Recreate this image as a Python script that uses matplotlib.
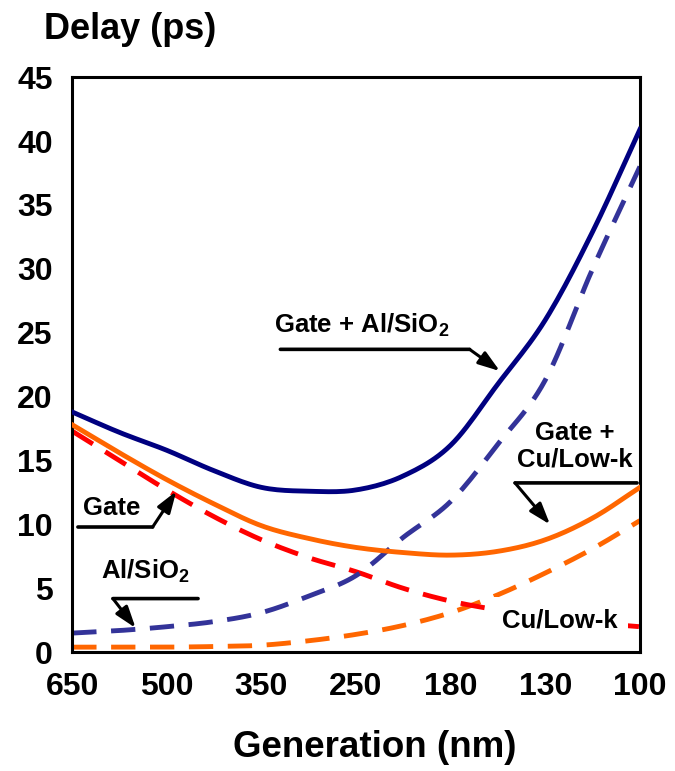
import numpy as np
import matplotlib.pyplot as plt

plt.rcParams['font.family'] = ['Liberation Sans', 'DejaVu Sans']
plt.rcParams['font.weight'] = 'bold'
plt.rcParams['mathtext.fontset'] = 'custom'
plt.rcParams['mathtext.bf'] = 'Liberation Sans:bold'
plt.rcParams['mathtext.rm'] = 'Liberation Sans:bold'
plt.rcParams['mathtext.default'] = 'bf'

# generations (categorical axis) and half-step sample positions
gen_labels = ['650', '500', '350', '250', '180', '130', '100']
x_pos = np.arange(0, 6.5, 0.5)

# delay values (ps) at each half step
gate_al = [18.8, 17.2, 15.8, 14.2, 12.9, 12.6, 12.7, 13.8, 16.2, 21.0, 26.0, 32.9, 40.9]
al_sio2 = [1.5, 1.7, 2.0, 2.4, 3.1, 4.4, 6.0, 9.0, 11.8, 16.3, 21.3, 30.0, 38.0]
gate_cu = [17.8, 15.6, 13.5, 11.6, 9.9, 8.9, 8.2, 7.8, 7.6, 7.9, 8.8, 10.5, 12.9]
gate = [17.3, 15.0, 12.7, 10.6, 8.8, 7.4, 6.3, 5.0, 4.0, 3.3, 2.7, 2.3, 2.0]
cu_lowk = [0.4, 0.4, 0.4, 0.45, 0.55, 0.9, 1.4, 2.1, 3.1, 4.5, 6.2, 8.1, 10.3]


def smooth(x, y, n=12):
    # catmull-rom for drawing a smooth curve through the read points
    x = np.asarray(x, float)
    y = np.asarray(y, float)
    px = np.concatenate([[2 * x[0] - x[1]], x, [2 * x[-1] - x[-2]]])
    py = np.concatenate([[2 * y[0] - y[1]], y, [2 * y[-1] - y[-2]]])
    xs, ys = [], []
    t = np.linspace(0, 1, n, endpoint=False)
    for i in range(1, len(px) - 2):
        for p, out in ((px, xs), (py, ys)):
            p0, p1, p2, p3 = p[i - 1], p[i], p[i + 1], p[i + 2]
            out.extend(0.5 * (2 * p1 + (-p0 + p2) * t + (2 * p0 - 5 * p1 + 4 * p2 - p3) * t ** 2
                              + (-p0 + 3 * p1 - 3 * p2 + p3) * t ** 3))
    xs.append(x[-1])
    ys.append(y[-1])
    return xs, ys


fig = plt.figure(figsize=(6.75, 7.71), dpi=100)
ax = fig.add_axes([0.107, 0.154, 0.841, 0.746])

lw = 3.5
dash = (5.0, 3.0)
ax.plot(*smooth(x_pos, cu_lowk), color='#FF6600', lw=lw, dashes=dash, zorder=2)
ax.plot(*smooth(x_pos, gate), color='#FF0000', lw=lw, dashes=dash, zorder=2)
ax.plot(*smooth(x_pos, al_sio2), color='#333399', lw=lw, dashes=dash, zorder=2)
ax.plot(*smooth(x_pos, gate_cu), color='#FF6600', lw=lw, zorder=3)
ax.plot(*smooth(x_pos, gate_al), color='#000080', lw=lw, zorder=3)

ax.set_xlim(0, 6)
ax.set_ylim(0, 45)
ax.set_xticks(range(len(gen_labels)))
ax.set_xticklabels(gen_labels)
ax.set_yticks(range(0, 50, 5))
ax.tick_params(length=0, labelsize=23)
ax.tick_params(axis='x', pad=14)
ax.tick_params(axis='y', pad=14)
for s in ax.spines.values():
    s.set_linewidth(2.2)

fig.text(0.065, 0.962, 'Delay (ps)', fontsize=26, ha='left', va='center')
fig.text(0.555, 0.03, 'Generation (nm)', fontsize=26.5, ha='center', va='center')

# annotations
fs = 18.5
arr = dict(arrowstyle='-|>,head_length=0.65,head_width=0.22', color='black', lw=2.2,
           mutation_scale=20, shrinkA=0, shrinkB=0)
seg = dict(arrowstyle='-', color='black', lw=2.6, shrinkA=0, shrinkB=0)

ax.text(3.06, 25.6, 'Gate + Al/SiO$_2$', fontsize=fs, ha='center', va='center', zorder=5)
ax.annotate('', xy=(4.2, 23.7), xytext=(2.2, 23.7), arrowprops=seg, zorder=5)
ax.annotate('', xy=(4.52, 22.0), xytext=(4.2, 23.7), arrowprops=arr, zorder=5)

ax.text(0.42, 11.3, 'Gate', fontsize=fs, ha='center', va='center', zorder=5)
ax.annotate('', xy=(0.85, 9.8), xytext=(0.06, 9.8), arrowprops=seg, zorder=5)
ax.annotate('', xy=(1.1, 12.6), xytext=(0.85, 9.8), arrowprops=arr, zorder=5)

ax.text(0.77, 6.3, 'Al/SiO$_2$', fontsize=fs, ha='center', va='center', zorder=5)
ax.annotate('', xy=(1.33, 4.2), xytext=(0.43, 4.2), arrowprops=seg, zorder=5)
ax.annotate('', xy=(0.67, 1.9), xytext=(0.43, 4.2), arrowprops=arr, zorder=5)

ax.text(5.31, 16.1, 'Gate +\nCu/Low-k', fontsize=fs, ha='center', va='center',
        linespacing=1.15, zorder=5)
ax.annotate('', xy=(5.97, 13.25), xytext=(4.68, 13.25), arrowprops=seg, zorder=5)
ax.annotate('', xy=(5.05, 10.0), xytext=(4.68, 13.25), arrowprops=arr, zorder=5)

ax.text(5.15, 2.5, 'Cu/Low-k', fontsize=fs, ha='center', va='center', zorder=5,
        bbox=dict(facecolor='white', edgecolor='none', pad=8))

fig.savefig('out.png', dpi=100)
